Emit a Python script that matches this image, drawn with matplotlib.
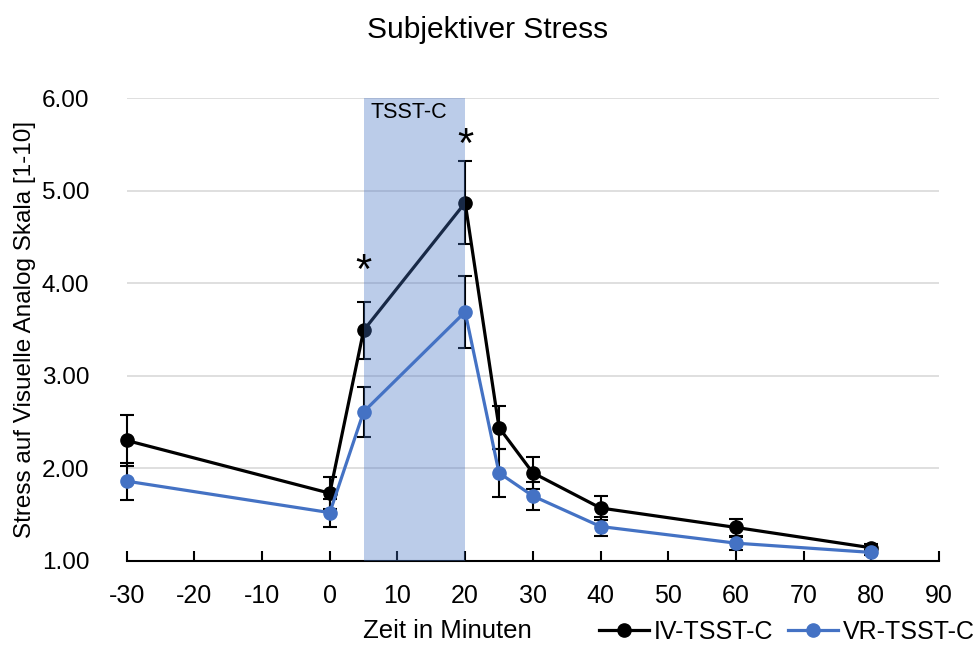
import matplotlib.pyplot as plt
from matplotlib.lines import Line2D
import numpy as np

plt.rcParams['font.family'] = ['Liberation Sans', 'DejaVu Sans']
plt.rcParams['axes.unicode_minus'] = False

# Zeitpunkte in Minuten
zeit = [-30, 0, 5, 20, 25, 30, 40, 60, 80]

# Mittelwerte und Fehler
iv_mean = [2.30, 1.73, 3.49, 4.87, 2.44, 1.95, 1.57, 1.36, 1.14]
iv_err = [0.28, 0.17, 0.31, 0.45, 0.23, 0.17, 0.13, 0.09, 0.04]
vr_mean = [1.86, 1.52, 2.61, 3.69, 1.95, 1.70, 1.37, 1.19, 1.09]
vr_err = [0.20, 0.15, 0.27, 0.39, 0.26, 0.15, 0.10, 0.07, 0.03]

tsst_start, tsst_end = 5, 20
sterne = [(5, 4.12), (20, 5.48)]

blau = '#4472C4'

fig = plt.figure(figsize=(9.75, 6.46), dpi=100)
ax = fig.add_axes([0.130, 0.132, 0.833, 0.716])

for mean, err, col in [(iv_mean, iv_err, 'black'), (vr_mean, vr_err, blau)]:
    cont = ax.errorbar(zeit, mean, yerr=err, color=col, marker='o', markersize=9.5,
                       linewidth=2.3, ecolor='black', capsize=5, elinewidth=1.5,
                       capthick=1.5, zorder=3)
    for art in [cont[0], *cont[1], *cont[2]]:
        art.set_clip_on(False)

ax.axvspan(tsst_start, tsst_end, color=blau, alpha=0.36, linewidth=0, zorder=4)
ax.text(11.7, 5.84, 'TSST-C', ha='center', va='center', fontsize=15.5, zorder=5)
for sx, sy in sterne:
    ax.text(sx, sy, '*', ha='center', va='center', fontsize=30, zorder=5)

ax.set_xlim(-30, 90)
ax.set_ylim(1, 6)
ax.set_xticks(np.arange(-30, 91, 10))
ax.set_yticks(np.arange(1, 6.01, 1))
ax.set_yticklabels([f'{v:.2f}' for v in np.arange(1, 6.01, 1)])
ax.grid(axis='y', color='#D9D9D9', linewidth=1.2, zorder=0)
ax.set_axisbelow(True)
for s in ['top', 'right', 'left']:
    ax.spines[s].set_visible(False)
ax.spines['bottom'].set_linewidth(1.5)
ax.tick_params(axis='x', direction='in', length=7, width=1.5, labelsize=18, pad=17)
ax.tick_params(axis='y', length=0, labelsize=17.5, pad=27)

fig.text(0.5, 0.953, 'Subjektiver Stress', ha='center', va='center', fontsize=21.5)
ax.set_xlabel('Zeit in Minuten', fontsize=18.5)
ax.xaxis.set_label_coords(0.395, -0.153)
ax.xaxis.label.set_va('center')
ax.set_ylabel('Stress auf Visuelle Analog Skala [1-10]', fontsize=17.5, labelpad=4)

handles = [Line2D([], [], color='black', marker='o', markersize=9.5, linewidth=2.3),
           Line2D([], [], color=blau, marker='o', markersize=9.5, linewidth=2.3)]
ax.legend(handles, ['IV-TSST-C', 'VR-TSST-C'], loc='center right',
          bbox_to_anchor=(1.06, -0.154), ncol=2, frameon=False,
          fontsize=18, handlelength=2.0, columnspacing=0.6, handletextpad=0.2,
          borderpad=0)

fig.savefig('out.png', dpi=100)
